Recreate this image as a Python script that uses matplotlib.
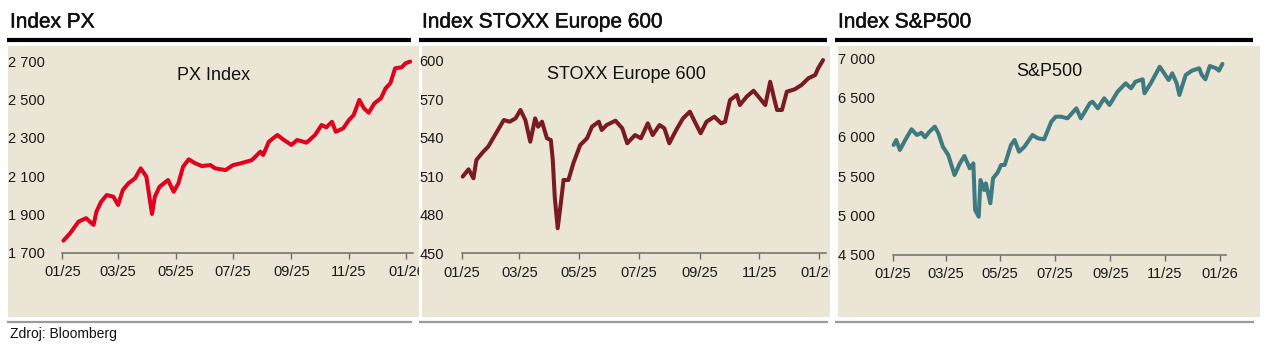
"""
Index PX / STOXX Europe 600 / S&P500 - three small line panels
"""

import matplotlib.pyplot as plt
import matplotlib.dates as mdates
import matplotlib.patheffects as pe
from matplotlib.patches import Rectangle
from matplotlib.lines import Line2D
from matplotlib.ticker import FixedLocator, FuncFormatter
from matplotlib.transforms import Bbox, TransformedBbox
import numpy as np

plt.rcParams['font.family'] = ['Liberation Sans', 'DejaVu Sans']

# ---- data ----
px_dates = ['2025-01-02', '2025-01-09', '2025-01-18', '2025-01-26', '2025-02-03', '2025-02-06',
            '2025-02-11', '2025-02-17', '2025-02-24', '2025-03-01', '2025-03-06', '2025-03-12',
            '2025-03-19', '2025-03-25', '2025-03-31', '2025-04-04', '2025-04-06', '2025-04-09',
            '2025-04-14', '2025-04-23', '2025-04-29', '2025-05-04', '2025-05-09', '2025-05-15',
            '2025-05-22', '2025-05-29', '2025-06-07', '2025-06-12', '2025-06-23', '2025-07-01',
            '2025-07-09', '2025-07-21', '2025-07-30', '2025-08-02', '2025-08-08', '2025-08-17',
            '2025-08-24', '2025-09-01', '2025-09-07', '2025-09-17', '2025-09-26', '2025-10-03',
            '2025-10-08', '2025-10-14', '2025-10-18', '2025-10-26', '2025-11-01', '2025-11-06',
            '2025-11-12', '2025-11-17', '2025-11-22', '2025-11-28', '2025-12-05', '2025-12-10',
            '2025-12-15', '2025-12-20', '2025-12-27', '2025-12-31', '2026-01-05']
px_vals = [1763, 1801, 1862, 1880, 1845, 1914, 1966, 2001, 1992, 1949, 2027, 2062,
           2088, 2140, 2097, 1966, 1902, 1992, 2044, 2079, 2018, 2062, 2149, 2187,
           2166, 2152, 2157, 2140, 2131, 2157, 2166, 2183, 2227, 2210, 2279, 2314,
           2288, 2262, 2288, 2274, 2314, 2366, 2354, 2383, 2331, 2349, 2392, 2418,
           2497, 2453, 2430, 2479, 2506, 2558, 2584, 2662, 2667, 2688, 2697]

stoxx_dates = ['2025-01-02', '2025-01-08', '2025-01-13', '2025-01-16', '2025-01-23', '2025-01-28',
               '2025-02-01', '2025-02-06', '2025-02-13', '2025-02-19', '2025-02-25', '2025-03-02',
               '2025-03-07', '2025-03-12', '2025-03-17', '2025-03-20', '2025-03-24', '2025-03-29',
               '2025-04-02', '2025-04-04', '2025-04-06', '2025-04-09', '2025-04-12', '2025-04-15',
               '2025-04-20', '2025-04-25', '2025-05-02', '2025-05-09', '2025-05-14', '2025-05-21',
               '2025-05-24', '2025-05-29', '2025-06-07', '2025-06-14', '2025-06-19', '2025-06-27',
               '2025-07-03', '2025-07-10', '2025-07-15', '2025-07-22', '2025-07-27', '2025-08-01',
               '2025-08-08', '2025-08-15', '2025-08-22', '2025-08-27', '2025-09-02', '2025-09-08',
               '2025-09-16', '2025-09-23', '2025-09-27', '2025-10-02', '2025-10-09', '2025-10-12',
               '2025-10-19', '2025-10-26', '2025-10-31', '2025-11-07', '2025-11-12', '2025-11-16',
               '2025-11-19', '2025-11-24', '2025-11-29', '2025-12-07', '2025-12-14', '2025-12-21',
               '2025-12-28', '2025-12-31', '2026-01-05']
stoxx_vals = [509.7, 515.4, 508.4, 522.7, 529.1, 533.0, 538.2, 544.7, 553.8, 552.5, 555.1, 561.6,
              553.8, 536.9, 555.1, 548.6, 552.5, 539.6, 538.2, 522.7, 494.0, 469.5, 487.6, 507.1,
              507.1, 520.1, 534.3, 539.6, 548.6, 552.5, 546.0, 549.9, 553.3, 547.3, 535.7, 542.1,
              539.6, 551.2, 542.1, 549.9, 547.3, 535.7, 546.0, 555.1, 560.3, 552.5, 543.5, 552.5,
              556.4, 551.2, 552.5, 569.4, 573.3, 565.5, 572.0, 576.6, 572.0, 565.5, 583.6, 570.7,
              561.6, 561.6, 575.9, 577.7, 581.1, 586.3, 588.9, 594.1, 600.5]

spx_dates = ['2025-01-02', '2025-01-05', '2025-01-09', '2025-01-15', '2025-01-22', '2025-01-28',
             '2025-02-02', '2025-02-06', '2025-02-11', '2025-02-17', '2025-02-21', '2025-02-26',
             '2025-03-04', '2025-03-11', '2025-03-17', '2025-03-22', '2025-03-28', '2025-04-01',
             '2025-04-03', '2025-04-07', '2025-04-09', '2025-04-13', '2025-04-15', '2025-04-20',
             '2025-04-23', '2025-04-28', '2025-05-02', '2025-05-06', '2025-05-13', '2025-05-17',
             '2025-05-22', '2025-05-28', '2025-06-06', '2025-06-12', '2025-06-19', '2025-06-27',
             '2025-07-02', '2025-07-08', '2025-07-15', '2025-07-25', '2025-07-30', '2025-08-09',
             '2025-08-12', '2025-08-18', '2025-08-25', '2025-08-31', '2025-09-09', '2025-09-18',
             '2025-09-24', '2025-09-29', '2025-10-07', '2025-10-09', '2025-10-16', '2025-10-26',
             '2025-10-31', '2025-11-05', '2025-11-09', '2025-11-14', '2025-11-17', '2025-11-24',
             '2025-12-01', '2025-12-09', '2025-12-12', '2025-12-16', '2025-12-21', '2025-12-28',
             '2025-12-31', '2026-01-04']
spx_vals = [5898, 5962, 5835, 5962, 6098, 6025, 6054, 5996, 6067, 6131, 6047, 5876,
            5771, 5517, 5665, 5758, 5602, 5665, 5072, 4987, 5453, 5326, 5411, 5157,
            5475, 5546, 5644, 5644, 5898, 5962, 5813, 5876, 6025, 5983, 5970, 6194,
            6258, 6258, 6237, 6364, 6237, 6428, 6448, 6364, 6492, 6407, 6576, 6682,
            6619, 6703, 6733, 6555, 6682, 6893, 6809, 6724, 6809, 6682, 6534, 6788,
            6843, 6873, 6788, 6733, 6902, 6873, 6843, 6928]

titles = ['Index PX', 'Index STOXX Europe 600', 'Index S&P500']
inner_titles = ['PX Index', 'STOXX Europe 600', 'S&P500']
px_ticks = [1700, 1900, 2100, 2300, 2500, 2700]
stoxx_ticks = [450, 480, 510, 540, 570, 600]
spx_ticks = [4500, 5000, 5500, 6000, 6500, 7000]
x_ticks = ['2025-01-01', '2025-03-01', '2025-05-01', '2025-07-01', '2025-09-01', '2025-11-01', '2026-01-01']
source = 'Zdroj: Bloomberg'

# ---- layout (pixels) ----
W, H = 1272, 357
BEIGE = '#eae5d4'

def fx(p):
    return p / W

def fy(p):
    return 1 - p / H

fig = plt.figure(figsize=(W / 100, H / 100), dpi=100)
fig.patch.set_facecolor('white')

panels = [
    # beige x0, x1 | rule x0, x1 | axes l, r, bottom, top | inner title y
    dict(bg=(8, 419), rule=(7, 411), ax=(62.5, 413, 252.7, 61), ty=75,
         dates=px_dates, vals=px_vals, ticks=px_ticks, color='#e1001e'),
    dict(bg=(422, 830), rule=(419, 827), ax=(461.7, 826, 253.3, 60.7), ty=74.5,
         dates=stoxx_dates, vals=stoxx_vals, ticks=stoxx_ticks, color='#7a1a22'),
    dict(bg=(838, 1260), rule=(835, 1253), ax=(892.7, 1226, 255, 58.3), ty=72,
         dates=spx_dates, vals=spx_vals, ticks=spx_ticks, color='#3e7a80'),
]

def thousands(v, pos):
    return f'{int(round(v)):,}'.replace(',', ' ')

xt = np.array(x_ticks, dtype='datetime64[D]')
heavier = [pe.withStroke(linewidth=0.35, foreground='#111111')]

for i, p in enumerate(panels):
    bx0, bx1 = p['bg']
    fig.add_artist(Rectangle((fx(bx0), fy(317)), fx(bx1 - bx0), (317 - 46) / H,
                             transform=fig.transFigure, facecolor=BEIGE, edgecolor='none', zorder=0))
    rx0, rx1 = p['rule']
    fig.add_artist(Line2D([fx(rx0), fx(rx1)], [fy(39.7), fy(39.7)], transform=fig.transFigure,
                          color='black', lw=3, solid_capstyle='butt'))
    fig.add_artist(Line2D([fx(rx0), fx(rx1 + 1)], [fy(321.7), fy(321.7)], transform=fig.transFigure,
                          color='#9b9b9b', lw=1.6, solid_capstyle='butt'))
    fig.text(fx(rx0 + 3), fy(22), titles[i], fontsize=15, color='#111111', va='center', ha='left',
             path_effects=heavier)
    fig.text(fx((bx0 + bx1) / 2), fy(p['ty']), inner_titles[i], fontsize=13, color='#111111',
             va='center', ha='center')

    l, r, b, t = p['ax']
    ax = fig.add_axes([fx(l), fy(b), fx(r - l), (b - t) / H])
    ax.set_facecolor('none')
    d = np.array(p['dates'], dtype='datetime64[D]')
    ax.plot(d, p['vals'], color=p['color'], lw=2.9, solid_joinstyle='round',
            solid_capstyle='round', clip_on=False)
    ax.set_xlim(np.datetime64('2025-01-01'), np.datetime64('2026-01-08'))
    ax.set_ylim(p['ticks'][0], p['ticks'][-1])
    ax.set_xticks(xt)
    ax.xaxis.set_major_formatter(mdates.DateFormatter('%m/%y'))
    ax.yaxis.set_major_locator(FixedLocator(p['ticks']))
    ax.yaxis.set_major_formatter(FuncFormatter(thousands))
    for s in ['left', 'right', 'top']:
        ax.spines[s].set_visible(False)
    ax.spines['bottom'].set_color('#6e6e66')
    ax.spines['bottom'].set_linewidth(1.1)
    ax.tick_params(axis='x', direction='out', length=4, width=1, color='#6e6e66',
                   labelsize=10.5, labelcolor='#1a1a1a', pad=5)
    ax.tick_params(axis='y', length=0, labelsize=10.5, labelcolor='#1a1a1a', pad=13)

    # tick labels are cut off at the panel edge
    clip = TransformedBbox(Bbox.from_extents(fx(bx0), 0, fx(bx1), 1), fig.transFigure)
    for tk in ax.xaxis.get_major_ticks():
        tk.label1.set_clip_box(clip)
        tk.label1.set_clip_on(True)

fig.text(fx(10), fy(334), source, fontsize=10, color='#111111', va='center', ha='left')

plt.savefig('out.png', dpi=100)
